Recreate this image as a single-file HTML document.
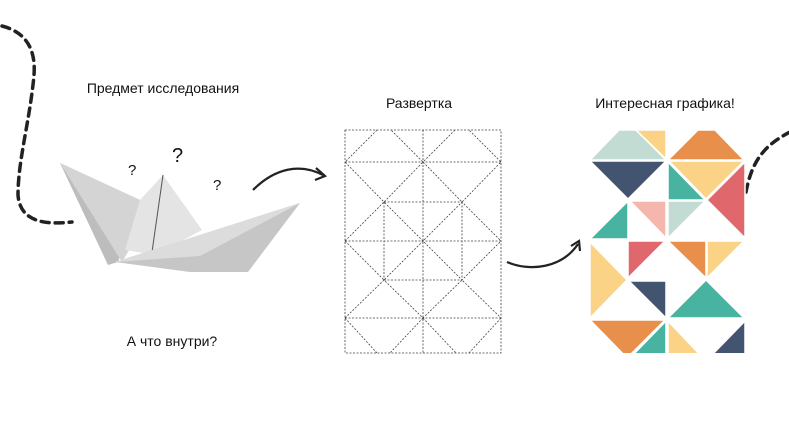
<!DOCTYPE html>
<html><head><meta charset="utf-8"><style>
html,body{margin:0;padding:0;background:#fff;width:789px;height:435px;overflow:hidden}
text{font-family:"Liberation Sans",sans-serif;font-size:14px;fill:#111}
</style></head><body>
<svg width="789" height="435" viewBox="0 0 789 435" xmlns="http://www.w3.org/2000/svg">
<defs><clipPath id="mc"><rect x="585" y="128" width="165" height="225"/></clipPath></defs>
<path d="M2,26 C25,32 36,48 34,75 C30,120 18,160 18,195 C20,222 45,225 72,222" fill="none" stroke="#222" stroke-width="3.5" stroke-dasharray="8,6" stroke-linecap="round"/>
<path d="M746,192 C752,160 765,145 790,132" fill="none" stroke="#222" stroke-width="3.5" stroke-dasharray="8,6" stroke-linecap="round"/>
<path d="M253,190 C275,168 300,163 323,175" fill="none" stroke="#222" stroke-width="2.2"/>
<path d="M316,168 L325,176 L315,180" fill="none" stroke="#222" stroke-width="2.2"/>
<path d="M507,262 C530,272 562,268 578,244" fill="none" stroke="#222" stroke-width="2.2"/>
<path d="M571,246 L579,241 L580,251" fill="none" stroke="#222" stroke-width="2.2"/>
<text x="163" y="93" text-anchor="middle">Предмет исследования</text>
<text x="419" y="108" text-anchor="middle">Развертка</text>
<text x="665" y="108" text-anchor="middle">Интересная графика!</text>
<text x="172" y="346" text-anchor="middle">А что внутри?</text>
<text x="128" y="175" style="font-size:15px">?</text>
<text x="172" y="162" style="font-size:20px">?</text>
<text x="213" y="190" style="font-size:15px">?</text>
<polygon points="60,163 140,200 118,262 108,265" fill="#bdbdbd"/>
<polygon points="60,163 140,200 150,215 122,262" fill="#d4d4d4"/>
<polygon points="163,175 202,230 155,255 125,250 140,200" fill="#e4e4e4"/>
<line x1="163" y1="175" x2="152" y2="252" stroke="#555" stroke-width="1"/>
<polygon points="115,262 300,203 248,272 190,272" fill="#c6c6c6"/>
<polygon points="115,262 300,203 200,256" fill="#dcdcdc"/>
<g fill="none" stroke="#444" stroke-width="0.8" stroke-dasharray="2,1.5">
<rect x="345" y="130" width="156" height="223"/>
<line x1="423" y1="130" x2="423" y2="353"/>
<line x1="384" y1="202" x2="384" y2="280"/>
<line x1="462" y1="202" x2="462" y2="280"/>
<line x1="345" y1="162" x2="501" y2="162"/>
<line x1="384" y1="202" x2="462" y2="202"/>
<line x1="345" y1="241" x2="501" y2="241"/>
<line x1="384" y1="280" x2="462" y2="280"/>
<line x1="345" y1="318" x2="501" y2="318"/>
<polyline points="377,130 345,162 384,202 423,162 391,130"/>
<polyline points="455,130 423,162 462,202 501,162 469,130"/>
<polyline points="345,241 384,202 423,241 462,202 501,241"/>
<polyline points="345,241 384,280 423,241 462,280 501,241"/>
<polyline points="345,318 384,280 423,318 462,280 501,318"/>
<polyline points="345,318 377,353"/>
<polyline points="423,318 390,353"/>
<polyline points="423,318 456,353"/>
<polyline points="501,318 469,353"/>
</g>
<g clip-path="url(#mc)" stroke="#fff" stroke-width="1.5">
<polygon points="590,160 619,130 636,130 666,160" fill="#c3dcd3"/>
<polygon points="636,130 666,130 666,159" fill="#fad386"/>
<polygon points="668,160 744,160 715,130 698,130" fill="#e98f4c"/>
<polygon points="590,161 666,161 628,199" fill="#435470"/>
<polygon points="668,162 668,200 705,200" fill="#48b3a0"/>
<polygon points="669,161 744,161 706,199" fill="#fad386"/>
<polygon points="745,162 745,238 707,200" fill="#e0686c"/>
<polygon points="590,239 628,239 628,201" fill="#48b3a0"/>
<polygon points="630,201 666,201 666,238" fill="#f5b6ae"/>
<polygon points="668,201 705,201 668,238" fill="#c3dcd3"/>
<polygon points="590,242 590,318 627,280" fill="#fad386"/>
<polygon points="628,241 665,241 628,278" fill="#e0686c"/>
<polygon points="668,241 706,241 706,278" fill="#e98f4c"/>
<polygon points="707,241 744,241 707,278" fill="#fad386"/>
<polygon points="629,281 666,281 666,318" fill="#435470"/>
<polygon points="668,318 744,318 706,280" fill="#48b3a0"/>
<polygon points="590,320 665,320 627,358" fill="#e98f4c"/>
<polygon points="666,321 666,360 628,360" fill="#48b3a0"/>
<polygon points="668,321 668,360 705,360" fill="#fad386"/>
<polygon points="745,321 745,360 707,360" fill="#435470"/>
</g>
</svg>
</body></html>
